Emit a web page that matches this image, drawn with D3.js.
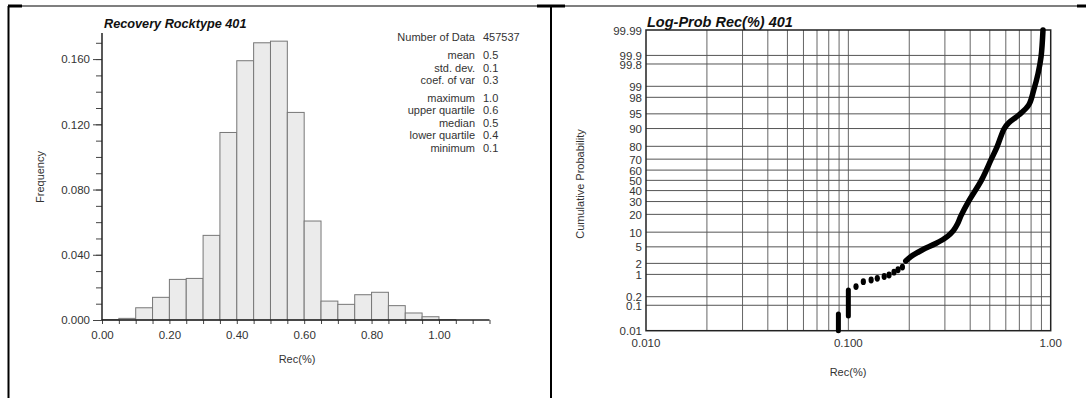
<!DOCTYPE html>
<html>
<head>
<meta charset="utf-8">
<script src="https://cdn.jsdelivr.net/npm/d3@7"></script>
<style>
  body { margin: 0; background: #fff; }
  svg text { font-family: "Liberation Sans", Arial, sans-serif; fill: #333; }
</style>
</head>
<body>
<svg id="chart" width="1086" height="398"></svg>
<script>
"use strict";

// histogram: bin starts (width 0.05) and frequencies
const binStarts = [0.00, 0.05, 0.10, 0.15, 0.20, 0.25, 0.30, 0.35, 0.40, 0.45, 0.50,
                   0.55, 0.60, 0.65, 0.70, 0.75, 0.80, 0.85, 0.90, 0.95, 1.00];
const binFreqs  = [0.0003, 0.0010, 0.0075, 0.0139, 0.0249, 0.0255, 0.0519, 0.1150, 0.1590, 0.1700, 0.1710,
                   0.1273, 0.0607, 0.0116, 0.0096, 0.0155, 0.0170, 0.0088, 0.0043, 0.0020, 0.0003];
const histXTicks = [0.0, 0.2, 0.4, 0.6, 0.8, 1.0];
const histYTicks = [0.0, 0.04, 0.08, 0.12, 0.16];

const statLabels = ["Number of Data", "mean", "std. dev.", "coef. of var",
                    "maximum", "upper quartile", "median", "lower quartile", "minimum"];
const statValues = ["457537", "0.5", "0.1", "0.3", "1.0", "0.6", "0.5", "0.4", "0.1"];

// log-prob plot: runs of (Rec, cumulative %)
const vRun1 = [[0.0893, 0.01], [0.0893, 0.047]];
const vRun2 = [[0.100, 0.04], [0.100, 0.334]];
const dotRec  = [0.1091, 0.1186, 0.1296, 0.1390, 0.1504, 0.1589, 0.1681, 0.1760, 0.1850];
const dotProb = [0.43, 0.61, 0.685, 0.77, 0.87, 0.96, 1.16, 1.35, 1.6];
const curveRec  = [0.1922, 0.2033, 0.2316, 0.2702, 0.3079, 0.3300, 0.3460, 0.3600, 0.3921, 0.4542,
                   0.5087, 0.5444, 0.5893, 0.6210, 0.6957, 0.7790, 0.8245, 0.8661, 0.8963, 0.9160];
const curveProb = [2.3, 2.95, 4.25, 5.9, 8.2, 10.6, 14, 19, 30, 50,
                   70, 80, 90, 92.3, 94.7, 96.9, 98.73, 99.59, 99.889, 99.99];
const probTicks = [99.99, 99.9, 99.8, 99, 98, 95, 90, 80, 70, 60, 50, 40, 30, 20, 10, 5, 2, 1, 0.2, 0.1, 0.01];
const probGrid  = [99.9, 99.8, 99, 98, 95, 90, 80, 70, 60, 50, 40, 30, 20, 10, 5, 2, 1, 0.2, 0.1];
const logXLabels = [0.01, 0.1, 1.0];

// inverse normal cdf (Acklam)
function probit(p) {
  const a = [-3.969683028665376e+01, 2.209460984245205e+02, -2.759285104469687e+02, 1.383577518672690e+02, -3.066479806614716e+01, 2.506628277459239e+00];
  const b = [-5.447609879822406e+01, 1.615858368580409e+02, -1.556989798598866e+02, 6.680131188771972e+01, -1.328068155288572e+01];
  const c = [-7.784894002430293e-03, -3.223964580411365e-01, -2.400758277161838e+00, -2.549732539343734e+00, 4.374664141464968e+00, 2.938163982698783e+00];
  const d = [7.784695709041462e-03, 3.224671290700398e-01, 2.445134137142996e+00, 3.754408661907416e+00];
  const pl = 0.02425;
  let q, r;
  if (p < pl) {
    q = Math.sqrt(-2 * Math.log(p));
    return (((((c[0]*q+c[1])*q+c[2])*q+c[3])*q+c[4])*q+c[5]) / ((((d[0]*q+d[1])*q+d[2])*q+d[3])*q+1);
  }
  if (p > 1 - pl) {
    q = Math.sqrt(-2 * Math.log(1 - p));
    return -(((((c[0]*q+c[1])*q+c[2])*q+c[3])*q+c[4])*q+c[5]) / ((((d[0]*q+d[1])*q+d[2])*q+d[3])*q+1);
  }
  q = p - 0.5; r = q * q;
  return (((((a[0]*r+a[1])*r+a[2])*r+a[3])*r+a[4])*r+a[5])*q / (((((b[0]*r+b[1])*r+b[2])*r+b[3])*r+b[4])*r+1);
}

const svg = d3.select("#chart");

// table frame
const frame = svg.append("g");
frame.append("line").attr("x1", 8).attr("x2", 1078).attr("y1", 6).attr("y2", 6)
  .attr("stroke", "#000").attr("stroke-width", 1.2);
[[8, 22], [537, 565], [1077, 1086]].forEach(s => {
  frame.append("line").attr("x1", s[0]).attr("x2", s[1]).attr("y1", 6).attr("y2", 6)
    .attr("stroke", "#000").attr("stroke-width", 3);
});
frame.append("line").attr("x1", 8.5).attr("x2", 8.5).attr("y1", 6).attr("y2", 398)
  .attr("stroke", "#000").attr("stroke-width", 2);
frame.append("line").attr("x1", 551).attr("x2", 551).attr("y1", 6).attr("y2", 398)
  .attr("stroke", "#000").attr("stroke-width", 2);

// ---------------- histogram ----------------
const hx = d3.scaleLinear().domain([0, 1.15]).range([102, 489.5]);
const hy = d3.scaleLinear().domain([0, 0.176]).range([320, 33]);
const hist = svg.append("g");

hist.selectAll(".bar")
  .data(binStarts.map((s, i) => ({s: s, f: binFreqs[i]})))
  .enter().append("rect")
  .attr("x", d => hx(d.s))
  .attr("width", d => hx(d.s + 0.05) - hx(d.s))
  .attr("y", d => hy(d.f))
  .attr("height", d => hy(0) - hy(d.f))
  .attr("fill", "#ebebeb")
  .attr("stroke", "#777")
  .attr("stroke-width", 1);

// y minor ticks
hist.append("g")
  .attr("transform", `translate(${hx(0)},0)`)
  .call(d3.axisLeft(hy).tickValues(d3.range(0, 0.1701, 0.01)).tickSize(6).tickFormat(""))
  .call(g => g.select(".domain").remove())
  .call(g => g.selectAll("line").attr("stroke", "#444"));
// y major ticks
const yAx = hist.append("g")
  .attr("transform", `translate(${hx(0)},0)`)
  .call(d3.axisLeft(hy).tickValues(histYTicks).tickSize(9).tickPadding(3).tickFormat(d3.format(".3f")));
yAx.select(".domain").remove();
yAx.selectAll("line").attr("stroke", "#444");
yAx.selectAll("text").attr("font-size", 11.5);

// x ticks
const xAx = hist.append("g")
  .attr("transform", `translate(0,${hy(0)})`)
  .call(d3.axisBottom(hx).tickValues(d3.range(0, 1.151, 0.05)).tickSize(4).tickFormat(""));
xAx.select(".domain").remove();
xAx.selectAll("line").attr("stroke", "#444");
hist.append("g")
  .attr("transform", `translate(0,${hy(0)})`)
  .call(d3.axisBottom(hx).tickValues(histXTicks).tickSize(0).tickPadding(11).tickFormat(d3.format(".2f")))
  .call(g => g.select(".domain").remove())
  .selectAll("text").attr("font-size", 11.5);

// axis lines
hist.append("line").attr("x1", hx(0)).attr("x2", hx(0)).attr("y1", 33).attr("y2", hy(0))
  .attr("stroke", "#222").attr("stroke-width", 1.5);
hist.append("line").attr("x1", hx(0)).attr("x2", hx(1.15)).attr("y1", hy(0)).attr("y2", hy(0))
  .attr("stroke", "#222").attr("stroke-width", 1.5);

hist.append("text").attr("x", 104).attr("y", 28)
  .attr("font-size", 12.7).attr("font-weight", "bold").attr("font-style", "italic")
  .style("fill", "#111").text("Recovery Rocktype 401");
hist.append("text").attr("transform", "translate(44,177) rotate(-90)")
  .attr("text-anchor", "middle").attr("font-size", 11).text("Frequency");
hist.append("text").attr("x", 297).attr("y", 363)
  .attr("text-anchor", "middle").attr("font-size", 11).text("Rec(%)");

// stats block
const statY = [41, 59, 72, 84, 101.5, 114, 126.5, 139, 151.5];
const stats = hist.append("g");
statLabels.forEach((l, i) => {
  stats.append("text").attr("x", 475).attr("y", statY[i]).attr("text-anchor", "end")
    .attr("font-size", 11).text(l);
  stats.append("text").attr("x", 483).attr("y", statY[i])
    .attr("font-size", 11).text(statValues[i]);
});

// ---------------- log-prob plot ----------------
const px = d3.scaleLog().domain([0.01, 1]).range([646, 1050.7]);
const pz = d3.scaleLinear().domain([probit(0.0001), probit(0.9999)]).range([330.7, 30]);
const py = p => pz(probit(p / 100));
const lp = svg.append("g");

const vGrid = [];
[0.01, 0.1].forEach(dec => { for (let k = 2; k <= 9; k++) vGrid.push(dec * k); });
vGrid.push(0.1);
lp.selectAll(".vg").data(vGrid).enter().append("line")
  .attr("x1", d => px(d)).attr("x2", d => px(d))
  .attr("y1", py(99.99)).attr("y2", py(0.01))
  .attr("stroke", "#666").attr("stroke-width", 1);
lp.selectAll(".hg").data(probGrid).enter().append("line")
  .attr("x1", px(0.01)).attr("x2", px(1))
  .attr("y1", d => py(d)).attr("y2", d => py(d))
  .attr("stroke", "#555").attr("stroke-width", 1);
lp.append("rect")
  .attr("x", px(0.01)).attr("y", py(99.99))
  .attr("width", px(1) - px(0.01)).attr("height", py(0.01) - py(99.99))
  .attr("fill", "none").attr("stroke", "#222").attr("stroke-width", 1.5);

lp.selectAll(".pt").data(probTicks).enter().append("text")
  .attr("x", 642).attr("y", d => py(d)).attr("dy", "0.4em")
  .attr("text-anchor", "end").attr("font-size", 11.5).text(d => d);
lp.selectAll(".xt").data(logXLabels).enter().append("text")
  .attr("x", d => px(d)).attr("y", 347)
  .attr("text-anchor", "middle").attr("font-size", 11.5)
  .text(d => d >= 1 ? d3.format(".2f")(d) : d3.format(".3f")(d));

lp.append("text").attr("x", 647).attr("y", 26.5)
  .attr("font-size", 14.5).attr("font-weight", "bold").attr("font-style", "italic")
  .style("fill", "#111").text("Log-Prob Rec(%) 401");
lp.append("text").attr("transform", "translate(584,184) rotate(-90)")
  .attr("text-anchor", "middle").attr("font-size", 11).text("Cumulative Probability");
lp.append("text").attr("x", 848).attr("y", 376)
  .attr("text-anchor", "middle").attr("font-size", 11).text("Rec(%)");

// data marks
const line = d3.line().x(d => px(d[0])).y(d => py(d[1]));
[vRun1, vRun2].forEach(run => {
  lp.append("path").datum(run).attr("d", line)
    .attr("fill", "none").attr("stroke", "#000").attr("stroke-width", 5).attr("stroke-linecap", "round");
});
lp.selectAll(".dot").data(dotRec.map((r, i) => [r, dotProb[i]])).enter().append("ellipse")
  .attr("cx", d => px(d[0])).attr("cy", d => py(d[1]))
  .attr("rx", 2.6).attr("ry", 3.4).attr("fill", "#000");
lp.append("path").datum(curveRec.map((r, i) => [r, curveProb[i]]))
  .attr("d", d3.line().x(d => px(d[0])).y(d => py(d[1])).curve(d3.curveCatmullRom))
  .attr("fill", "none").attr("stroke", "#000").attr("stroke-width", 5.5)
  .attr("stroke-linecap", "round").attr("stroke-linejoin", "round");
</script>
</body>
</html>
